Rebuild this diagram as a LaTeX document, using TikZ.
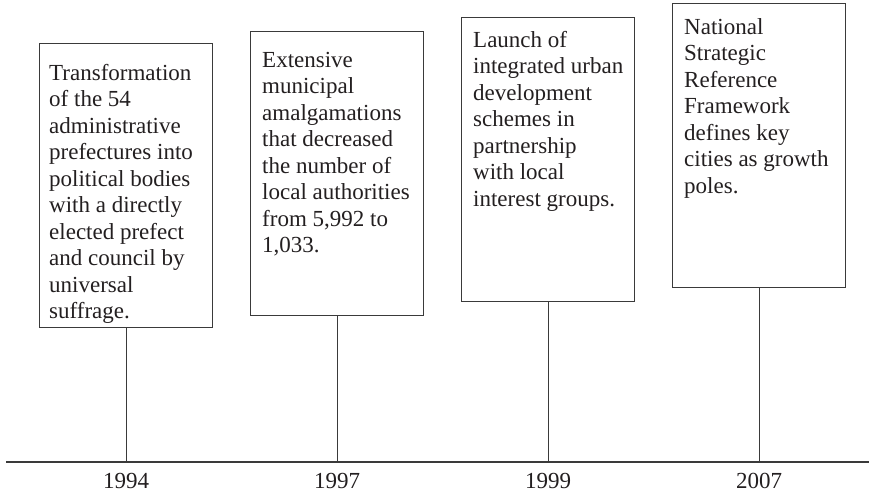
\documentclass[tikz,border=0pt]{standalone}
\usepackage{fontspec}
\setmainfont{Liberation Serif}
\usetikzlibrary{positioning}
\definecolor{inkgray}{HTML}{231F20}
\definecolor{linegray}{HTML}{3A3A3A}
\tikzset{
    eventbox/.style={draw=linegray, line width=1.2pt, anchor=north west, inner sep=0pt,
        minimum width=173pt, minimum height=284pt},
    eventtext/.style={anchor=north west, align=left, inner sep=0pt, text=inkgray,
        font=\fontsize{23}{26.5}\selectfont},
    yearlabel/.style={anchor=north, inner sep=0pt, text=inkgray, font=\fontsize{23}{26.5}\selectfont},
    stem/.style={draw=linegray, line width=0.9pt},
}

\begin{document}
\begin{tikzpicture}[x=1pt, y=-1pt]
            \useasboundingbox (0,0) rectangle (869,495);

            \coordinate (axisL) at (6, 462);
            \coordinate (axisR) at (869, 462);

            % event boxes
            \node[eventbox] (box1) at (39, 43) {};
            \node[eventbox] (box2) at (250, 31) {};
            \node[eventbox] (box3) at (461, 17) {};
            \node[eventbox] (box4) at (672, 3) {};

            \node[eventtext] (txt1) at ([shift={(10pt,-21pt)}]box1.north west)
                {Transformation\\of the 54\\administrative\\prefectures into\\political bodies\\with a directly\\elected prefect\\and council by\\universal\\suffrage.};
            \node[eventtext] (txt2) at ([shift={(12pt,-21pt)}]box2.north west)
                {Extensive\\municipal\\amalgamations\\that decreased\\the number of\\local authorities\\from 5,992 to\\1,033.};
            \node[eventtext] (txt3) at ([shift={(12pt,-14pt)}]box3.north west)
                {Launch of\\integrated urban\\development\\schemes in\\partnership\\with local\\interest groups.};
            \node[eventtext] (txt4) at ([shift={(12pt,-15pt)}]box4.north west)
                {National\\Strategic\\Reference\\Framework\\defines key\\cities as growth\\poles.};

            % time axis
            \draw[draw=linegray, line width=1.4pt] (axisL) -- (axisR);

            \foreach \i/\yr in {1/1994, 2/1997, 3/1999, 4/2007} {
                \coordinate (tick\i) at (box\i.south |- axisL);
                \draw[stem] (box\i.south) -- (tick\i);
                \node[yearlabel, below=11pt of tick\i] (year\i) {\yr};
            }
\end{tikzpicture}
\end{document}
